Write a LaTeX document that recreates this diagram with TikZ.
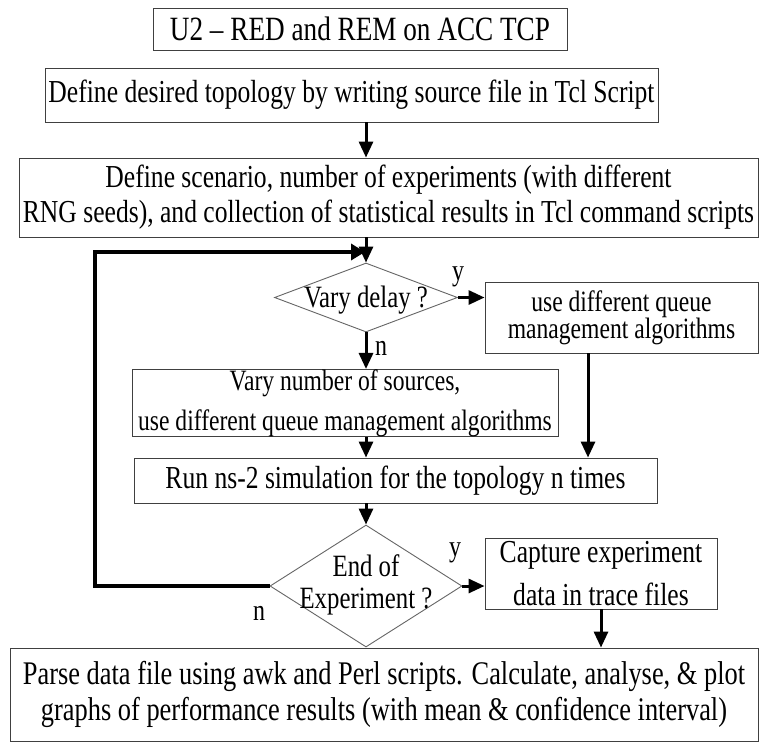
\documentclass[tikz,border=0pt]{standalone}
\usepackage{fontspec}
\setmainfont[FakeStretch=0.8]{Liberation Serif}
\usetikzlibrary{shapes.geometric,arrows.meta}
\begin{document}
\begin{tikzpicture}[x=1pt,y=-1pt,
  box/.style={draw=black!75,line width=0.9pt,inner sep=0pt,align=center},
  dia/.style={draw=black!60,line width=0.9pt,diamond,inner sep=0pt},
  arr/.style={line width=3pt,-{Triangle[length=16pt,width=14pt]}},
  looparr/.style={line width=3.5pt,-{Triangle[length=14pt,width=16pt]}},
  lbl/.style={inner sep=0pt,font=\fontsize{30}{30}\selectfont},
  dtext/.style={inner sep=0pt,align=center}
]
\useasboundingbox (0,0) rectangle (759,742);
\fill[white] (0,0) rectangle (759,742);
% boxes
\node[box,minimum width=414pt,minimum height=42pt,font=\fontsize{34}{36}\selectfont] (title) at (360,29) {U2 \textendash{} RED and REM on ACC TCP};
\node[box,minimum width=613pt,minimum height=54pt,font=\fontsize{32}{35}\selectfont] (b2) at (351.5,95) {Define desired topology by writing source file in Tcl Script};
\node[box,minimum width=739pt,minimum height=79pt,font=\fontsize{32}{35}\selectfont] (b3) at (388.5,197.5) {Define scenario, number of experiments (with different\\RNG seeds), and collection of statistical results in Tcl command scripts};
\node[dia,minimum width=183pt,minimum height=69pt] (d1) at (366,297.5) {};
\node[dtext,font=\fontsize{31}{32}\selectfont] (d1t) at (366,300) {Vary delay ?};
\node[box,minimum width=273pt,minimum height=71pt,font=\fontsize{29.5}{27}\selectfont] (q) at (621.5,317.5) {use different queue\\management algorithms};
\node[box,minimum width=426pt,minimum height=66pt,font=\fontsize{29.5}{40}\selectfont] (vary) at (345,403) {Vary number of sources,\\use different queue management algorithms};
\node[box,minimum width=523pt,minimum height=45pt,font=\fontsize{32}{35}\selectfont] (run) at (395.5,480.5) {Run ns-2 simulation for the topology n times};
\node[dia,minimum width=192pt,minimum height=122pt] (d2) at (366,586) {};
\node[dtext,font=\fontsize{31}{32}\selectfont] (d2t) at (366,585) {End of\\Experiment ?};
\node[box,minimum width=232pt,minimum height=71pt,font=\fontsize{32}{43}\selectfont] (cap) at (601,573.5) {Capture experiment\\data in trace files};
\node[box,minimum width=748pt,minimum height=93pt,font=\fontsize{33}{36}\selectfont] (parse) at (384,694.5) {Parse data file using awk and Perl scripts. Calculate, analyse, \& plot\\graphs of performance results (with mean \& confidence interval)};
% labels
\node[lbl] (y1) at (458,277) {y};
\node[lbl] (n1) at (381,348) {n};
\node[lbl] (y2) at (455,553) {y};
\node[lbl] (n2) at (259,613) {n};
% connectors
\draw[arr] (b2.south -| d1.north) -- (b3.north -| d1.north);
\draw[arr] (b3.south -| d1.north) -- (d1.north);
\coordinate (lpc) at (95,252);
\coordinate (lpe) at (365,252);
\draw[looparr] (d2.west) -| (lpc) -- (lpe);
\draw[arr] (d1.east) -- (d1.east -| q.west);
\draw[arr] (d1.south) -- (d1.south |- vary.north);
\coordinate (qx) at (588,0);
\draw[arr] (q.south -| qx) -- (run.north -| qx);
\draw[arr] (vary.south -| d1.south) -- (run.north -| d1.south);
\draw[arr] (run.south -| d2.north) -- (d2.north);
\draw[arr] (d2.east) -- (d2.east -| cap.west);
\draw[arr] (cap.south) -- (cap.south |- parse.north);
\end{tikzpicture}
\end{document}
